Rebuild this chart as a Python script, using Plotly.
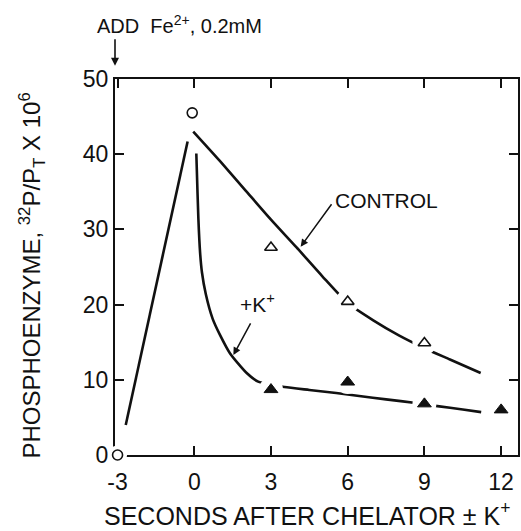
import plotly.graph_objects as go

# ---- data ----
# open circles (Fe2+ addition phase)
circle_x = [-3.0, -0.08]
circle_y = [0.0, 45.5]

# open triangles: CONTROL
control_x = [3, 6, 9]
control_y = [27.6, 20.4, 14.9]

# filled triangles: +K+
k_x = [3, 6, 9, 12]
k_y = [8.7, 9.7, 6.8, 6.0]

# rising line during Fe2+ loading
rise_x = [-2.68, -0.26]
rise_y = [4.0, 41.7]

# hand-drawn CONTROL curve
control_curve_x = [-0.04, 1, 2, 3, 4, 5, 6, 7, 8, 9, 10, 11.2]
control_curve_y = [43.0, 39.1, 35.2, 31.3, 27.6, 23.8, 20.2, 17.9, 15.9, 14.2, 12.7, 10.9]

# hand-drawn +K+ curve
k_curve_x = [0.08, 0.1, 0.16, 0.23, 0.3, 0.45, 0.72, 1.0, 1.4, 2.05, 2.5, 3.0,
             3.53, 4.5, 5.55, 6.45, 7.5, 8.66, 9.51, 10.5, 11.22]
k_curve_y = [40.1, 37.9, 31.5, 26.8, 24.3, 21.4, 18.1, 16.0, 13.5, 10.9, 9.75, 9.35,
             9.04, 8.65, 8.24, 7.85, 7.4, 6.91, 6.5, 6.05, 5.7]

x_ticks = [-3, 0, 3, 6, 9, 12]
y_ticks = [0, 10, 20, 30, 40, 50]

x_title = "SECONDS AFTER CHELATOR \u00b1 K<sup>+</sup>"
y_title = "PHOSPHOENZYME, <sup>32</sup>P/P<sub>T</sub> X 10<sup>6</sup>"

FONT = "Liberation Sans, Arial, Helvetica, sans-serif"
BLACK = "#111111"

fig = go.Figure()

line_style = dict(color=BLACK, width=2.6)
fig.add_trace(go.Scatter(x=rise_x, y=rise_y, mode="lines", line=line_style,
                         hoverinfo="skip", showlegend=False))
fig.add_trace(go.Scatter(x=control_curve_x, y=control_curve_y, mode="lines",
                         line=dict(color=BLACK, width=2.6, shape="spline", smoothing=0.6),
                         hoverinfo="skip", showlegend=False))
fig.add_trace(go.Scatter(x=k_curve_x, y=k_curve_y, mode="lines",
                         line=dict(color=BLACK, width=2.6, shape="spline", smoothing=0.6),
                         hoverinfo="skip", showlegend=False))

# white halos that break the curves around the symbols
fig.add_trace(go.Scatter(x=control_x + k_x, y=control_y + k_y, mode="markers",
                         marker=dict(symbol="circle", size=24, color="white"),
                         hoverinfo="skip", showlegend=False))
fig.add_trace(go.Scatter(x=circle_x[:1], y=circle_y[:1], mode="markers",
                         marker=dict(symbol="circle", size=19, color="white"),
                         cliponaxis=False, hoverinfo="skip", showlegend=False))

fig.add_trace(go.Scatter(x=control_x, y=control_y, mode="markers",
                         marker=dict(symbol="triangle-up", size=11, color="white",
                                     line=dict(color=BLACK, width=1.6)),
                         showlegend=False))
fig.add_trace(go.Scatter(x=k_x, y=k_y, mode="markers",
                         marker=dict(symbol="triangle-up", size=12, color=BLACK,
                                     line=dict(color=BLACK, width=1)),
                         showlegend=False))
fig.add_trace(go.Scatter(x=circle_x, y=circle_y, mode="markers",
                         marker=dict(symbol="circle", size=10, color="white",
                                     line=dict(color=BLACK, width=1.6)),
                         cliponaxis=False, showlegend=False))

axis_common = dict(
    showline=True, linecolor=BLACK, linewidth=2, mirror="allticks",
    ticks="inside", ticklen=9, tickwidth=1.6, tickcolor=BLACK,
    showgrid=False, zeroline=False, layer="below traces",
    tickfont=dict(family=FONT, size=23, color=BLACK),
)

fig.update_xaxes(range=[-3.1, 12.66], tickvals=x_ticks,
                 ticktext=[str(v) for v in x_ticks], ticklabelstandoff=5,
                 **axis_common)
fig.update_yaxes(range=[0, 50], tickvals=y_ticks,
                 ticktext=[str(v) for v in y_ticks],
                 **axis_common)

# axis titles as annotations for exact placement
fig.add_annotation(xref="paper", yref="paper", x=0.477, y=-0.157,
                   text=x_title, showarrow=False, xanchor="center", yanchor="middle",
                   font=dict(family=FONT, size=25, color=BLACK))
fig.add_annotation(xref="paper", yref="paper", x=-0.207, y=0.476,
                   text=y_title, showarrow=False, textangle=-90,
                   xanchor="center", yanchor="middle",
                   font=dict(family=FONT, size=24, color=BLACK))

ann_font = dict(family=FONT, size=21, color=BLACK)
fig.add_annotation(xref="paper", yref="paper", x=-0.05, y=1.146,
                   text="ADD  Fe<sup>2+</sup>, 0.2mM", showarrow=False,
                   xanchor="left", yanchor="middle",
                   font=dict(family=FONT, size=20, color=BLACK))
fig.add_annotation(xref="paper", yref="paper", x=0.0, y=1.035, text="",
                   showarrow=True, ax=0, ay=-28, arrowhead=2, arrowsize=1,
                   arrowwidth=1.6, arrowcolor=BLACK)
fig.add_annotation(x=7.5, y=33.8, text="CONTROL", showarrow=False,
                   font=ann_font)
fig.add_annotation(x=4.16, y=27.7, text="", showarrow=True, ax=32, ay=-44,
                   arrowhead=2, arrowsize=1, arrowwidth=1.5, arrowcolor=BLACK)
fig.add_annotation(x=2.49, y=20.2, text="+K<sup>+</sup>", showarrow=False,
                   font=ann_font)
fig.add_annotation(x=1.53, y=13.3, text="", showarrow=True, ax=18, ay=-33,
                   arrowhead=2, arrowsize=1, arrowwidth=1.5, arrowcolor=BLACK)

fig.update_layout(
    width=521, height=531,
    margin=dict(l=115, r=1, t=79, b=76, pad=0),
    paper_bgcolor="white", plot_bgcolor="white",
    font=dict(family=FONT, color=BLACK),
    showlegend=False,
)

fig.write_html("out.html")
